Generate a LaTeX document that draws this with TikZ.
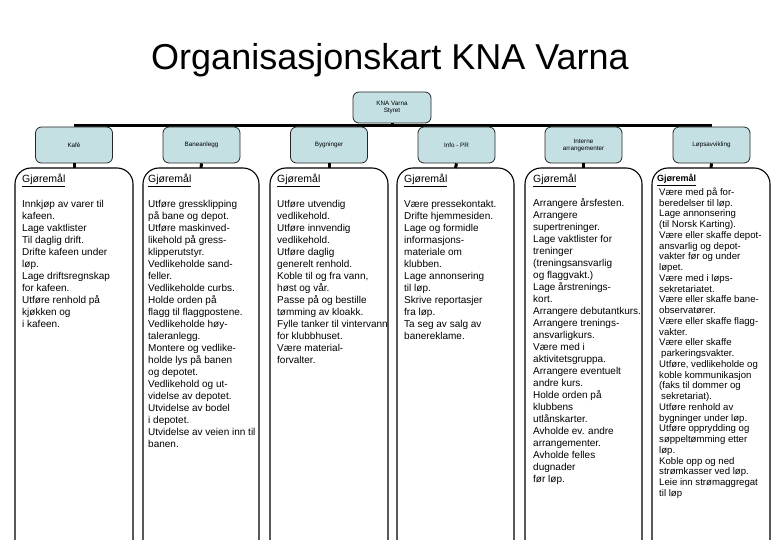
\documentclass[tikz,border=0pt]{standalone}
\usepackage{fontspec}
\setmainfont{Liberation Sans}
\definecolor{boxblue}{RGB}{196,224,227}
\newcommand\tightlinesKNA{\lineskiplimit=-20pt\relax\lineskip=0pt\relax}
\begin{document}
\begin{tikzpicture}[x=1pt,y=-1pt,
  hdr/.style={draw=black!85, line width=0.8pt, fill=boxblue, rounded corners=6pt,
    minimum width=77pt, minimum height=36pt, align=center, inner sep=1pt,
    font=\fontsize{6.3}{7}\selectfont},
  colframe/.style={draw=black, line width=1.1pt, rounded corners=16pt},
  bus/.style={line width=3pt},
  stub/.style={line width=3pt},
  gjh/.style={anchor=base west, inner sep=0pt, font=\fontsize{10.5}{12}\selectfont},
  gjsmall/.style={anchor=base west, inner sep=0pt, font=\fontsize{9}{10}\selectfont\bfseries},
  body/.style={anchor=north west, inner sep=0pt, align=left,
    font={\fontsize{10}{12}\selectfont\tightlinesKNA}},
  bodysmall/.style={anchor=north west, inner sep=0pt, align=left,
    font={\fontsize{9.6}{10.75}\selectfont\tightlinesKNA}},
  ttl/.style={anchor=base, inner sep=0pt, font=\fontsize{36}{40}\selectfont}]
\useasboundingbox (0,0) rectangle (780,540);

\node[ttl] (title) at (390,70) {Organisasjonskart KNA Varna};

% bus line and header nodes
\coordinate (busL) at (74,125.5);
\coordinate (busR) at (711.5,125.5);
\coordinate (busM) at (392,125.5);
\draw[bus] (busL) -- (busR);

\node[hdr, minimum width=78pt, minimum height=31pt] (styret) at (392,107.5) {KNA Varna\\Styret};
\draw[bus] (styret.south) -- (busM);
\node[hdr] (kafe) at (74,145) {Kafè};
\node[hdr] (bane) at (201.5,145) {Baneanlegg};
\node[hdr] (bygg) at (329,145) {Bygninger};
\node[hdr] (info) at (456.5,145) {Info - PR};
\node[hdr] (intern) at (583.5,145) {Interne\\arrangementer};
\node[hdr] (lop) at (711.5,145) {Løpsavvikling};

% column frame tops
\coordinate (t1) at (74,168);
\coordinate (t2) at (201,168);
\coordinate (t3) at (329,168);
\coordinate (t4) at (455.5,168);
\coordinate (t5) at (583.5,168);
\coordinate (t6) at (711,168);

\foreach \a/\b in {kafe/t1,bane/t2,bygg/t3,info/t4,intern/t5,lop/t6}
  \draw[stub] (\a.south) -- (\b);

\draw[colframe] (15,541) -- (15,168) -- (133,168) -- (133,541);
\draw[colframe] (143,541) -- (143,168) -- (259,168) -- (259,541);
\draw[colframe] (270,541) -- (270,168) -- (388,168) -- (388,541);
\draw[colframe] (397,541) -- (397,168) -- (514,168) -- (514,541);
\draw[colframe] (525,541) -- (525,168) -- (642,168) -- (642,541);
\draw[colframe] (652,541) -- (652,168) -- (770,168) -- (770,541);

% column texts
\node[gjh] (g1) at (22,183) {\underline{Gjøremål}};
\node[gjh] (g2) at (148,183) {\underline{Gjøremål}};
\node[gjh] (g3) at (277,183) {\underline{Gjøremål}};
\node[gjh] (g4) at (404,183) {\underline{Gjøremål}};
\node[gjh] (g5) at (533,183) {\underline{Gjøremål}};
\node[gjsmall] (g6) at (657,182) {\underline{Gjøremål}};

\node[body] (b1) at (22,200.5) {Innkjøp av varer til\\kafeen.\\Lage vaktlister\\Til daglig drift.\\Drifte kafeen under\\løp.\\Lage driftsregnskap\\for kafeen.\\Utføre renhold på\\kjøkken og\\i kafeen.};

\node[body] (b2) at (148,200.5) {Utføre gressklipping\\på bane og depot.\\Utføre maskinved-\\likehold på gress-\\klipperutstyr.\\Vedlikeholde sand-\\feller.\\Vedlikeholde curbs.\\Holde orden på\\flagg til flaggpostene.\\Vedlikeholde høy-\\taleranlegg.\\Montere og vedlike-\\holde lys på banen\\og depotet.\\Vedlikehold og ut-\\videlse av depotet.\\Utvidelse av bodel\\i depotet.\\Utvidelse av veien inn til\\banen.};

\node[body] (b3) at (277,200.5) {Utføre utvendig\\vedlikehold.\\Utføre innvendig\\vedlikehold.\\Utføre daglig\\generelt renhold.\\Koble til og fra vann,\\høst og vår.\\Passe på og bestille\\tømming av kloakk.\\Fylle tanker til vintervann\\for klubbhuset.\\Være material-\\forvalter.};

\node[body] (b4) at (404,200.5) {Være pressekontakt.\\Drifte hjemmesiden.\\Lage og formidle\\informasjons-\\materiale om\\klubben.\\Lage annonsering\\til løp.\\Skrive reportasjer\\fra løp.\\Ta seg av salg av\\banereklame.};

\node[body] (b5) at (533,198.5) {Arrangere årsfesten.\\Arrangere\\supertreninger.\\Lage vaktlister for\\treninger\\(treningsansvarlig\\og flaggvakt.)\\Lage årstrenings-\\kort.\\Arrangere debutantkurs.\\Arrangere trenings-\\ansvarligkurs.\\Være med i\\aktivitetsgruppa.\\Arrangere eventuelt\\andre kurs.\\Holde orden på\\klubbens\\utlånskarter.\\Avholde ev. andre\\arrangementer.\\Avholde felles\\dugnader\\før løp.};

\node[bodysmall] (b6) at (659,187.5) {Være med på for-\\beredelser til løp.\\Lage annonsering\\(til Norsk Karting).\\Være eller skaffe depot-\\ansvarlig og depot-\\vakter før og under\\løpet.\\Være med i løps-\\sekretariatet.\\Være eller skaffe bane-\\observatører.\\Være eller skaffe flagg-\\vakter.\\Være eller skaffe\\\hspace{2pt}parkeringsvakter.\\Utføre, vedlikeholde og\\koble kommunikasjon\\(faks til dommer og\\\hspace{2pt}sekretariat).\\Utføre renhold av\\bygninger under løp.\\Utføre opprydding og\\søppeltømming etter\\løp.\\Koble opp og ned\\strømkasser ved løp.\\Leie inn strømaggregat\\til løp};
\end{tikzpicture}
\end{document}
